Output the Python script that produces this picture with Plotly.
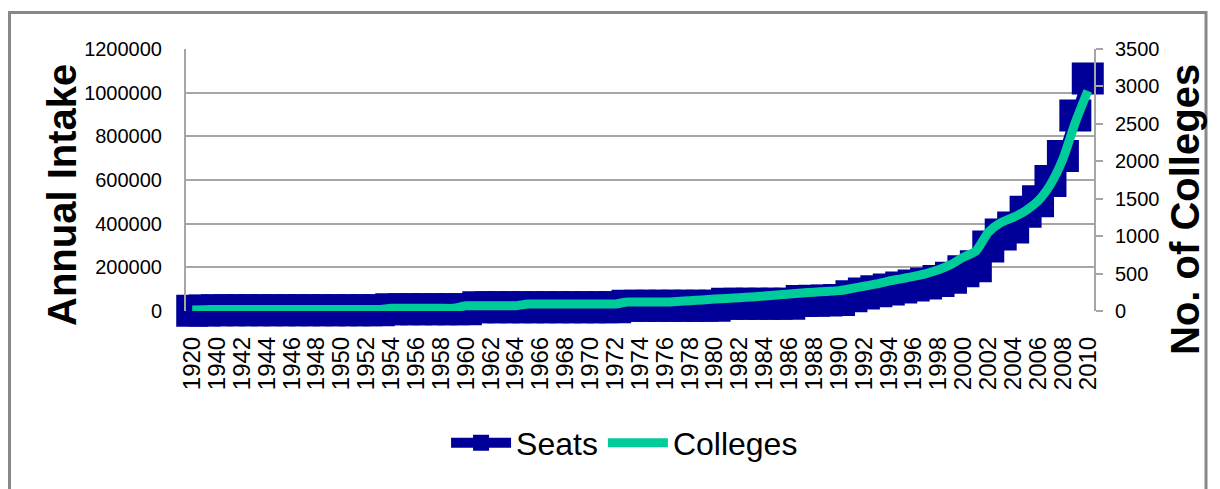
import plotly.graph_objects as go

years = ['1920', '1930'] + [str(y) for y in range(1940, 2011)]
tick_labels = years[::2]

seats = [1000, 2000,
         3000, 3000, 3000, 3000, 3000, 3000, 3000, 3000, 4000, 4000, 4000, 4000, 4000, 4000,
         8000, 8000, 8000, 8000, 8000, 8000, 8000,
         17000, 17000, 17000, 17000, 17000, 17000, 17000, 17000, 17000, 17000, 17000, 17000,
         24000, 24000, 24000, 24000, 24000, 24000, 24000, 24000,
         33000, 33000, 33000, 33000, 33000, 33000,
         46000, 47000, 48000, 50000,
         67000, 80000, 90000, 98000, 108000, 117000, 126000, 137000, 152000, 182000,
         205000, 295000, 350000, 382000, 455000, 503000, 595000, 710000, 895000, 1065000]

colleges = [15, 18,
            20, 20, 20, 20, 20, 20, 20, 20, 20, 20, 20, 20, 20, 20,
            36, 36, 36, 36, 36, 36,
            70, 70, 70, 70, 70,
            94, 94, 94, 94, 94, 94, 94, 94,
            120, 120, 120, 120,
            128, 138, 148, 160, 168, 178, 188, 200, 215, 228, 240, 252, 262, 272,
            300, 330, 362, 400, 430, 462, 500, 550, 620, 720,
            800, 1050, 1180, 1250, 1340, 1470, 1690, 2030, 2520, 2940]

BLUE = '#000099'
GREEN = '#00CC99'
GRID = '#A6A6A6'
SANS = 'Liberation Sans, Arial, sans-serif'

fig = go.Figure()
fig.add_trace(go.Scatter(
    x=years, y=seats, name='Seats', mode='lines+markers',
    line=dict(color=BLUE, width=10),
    marker=dict(symbol='square', size=32, color=BLUE),
    cliponaxis=False,
    yaxis='y'))
fig.add_trace(go.Scatter(
    x=years, y=colleges, name='Colleges', mode='lines',
    line=dict(color=GREEN, width=9, shape='spline', smoothing=0.6),
    cliponaxis=False,
    yaxis='y2'))

fig.update_layout(
    width=1220, height=489,
    margin=dict(l=186, r=126, t=49, b=178),
    paper_bgcolor='white', plot_bgcolor='white',
    showlegend=True,
    legend=dict(orientation='h', x=0.483, xanchor='center', y=-0.504, yanchor='middle',
                font=dict(family=SANS, size=32, color='black'),
                itemwidth=60, bgcolor='rgba(0,0,0,0)'),
    xaxis=dict(type='category', categoryorder='array', categoryarray=years,
               range=[-0.5, len(years) - 0.5],
               tickmode='array', tickvals=tick_labels, ticktext=tick_labels,
               tickangle=-90, tickfont=dict(family=SANS, size=24, color='black'),
               showgrid=False, showline=False, zeroline=False, ticks='',
               ticklabelstandoff=20),
    yaxis=dict(range=[0, 1200000], dtick=200000, tickformat='d',
               showgrid=True, gridcolor=GRID, gridwidth=2,
               showline=True, linecolor=GRID, linewidth=2,
               zeroline=False, ticks='', ticklabelstandoff=18,
               tickfont=dict(family=SANS, size=20, color='black')),
    yaxis2=dict(range=[0, 3500], dtick=500, overlaying='y', side='right',
                showgrid=False, showline=True, linecolor=GRID, linewidth=2,
                zeroline=False, ticks='outside', ticklen=7, tickwidth=2, tickcolor=GRID,
                ticklabelstandoff=8,
                tickfont=dict(family=SANS, size=20, color='black')),
    annotations=[
        dict(text='<b>Annual Intake</b>', textangle=-90, xref='paper', yref='paper',
             x=(62 - 186) / 908, y=(311 - 195) / 262, xanchor='center', yanchor='middle',
             showarrow=False, font=dict(family=SANS, size=40, color='black')),
        dict(text='<b>No. of Colleges</b>', textangle=-90, xref='paper', yref='paper',
             x=(1185 - 186) / 908, y=(311 - 210) / 262, xanchor='center', yanchor='middle',
             showarrow=False, font=dict(family=SANS, size=40, color='black')),
    ],
    shapes=[dict(type='rect', xref='paper', yref='paper',
                 x0=(9.5 - 186) / 908, x1=(1206 - 186) / 908,
                 y0=(311 - 520) / 262, y1=(311 - 12.5) / 262,
                 line=dict(color='#888888', width=3), layer='below')],
)

fig.write_html('out.html')
